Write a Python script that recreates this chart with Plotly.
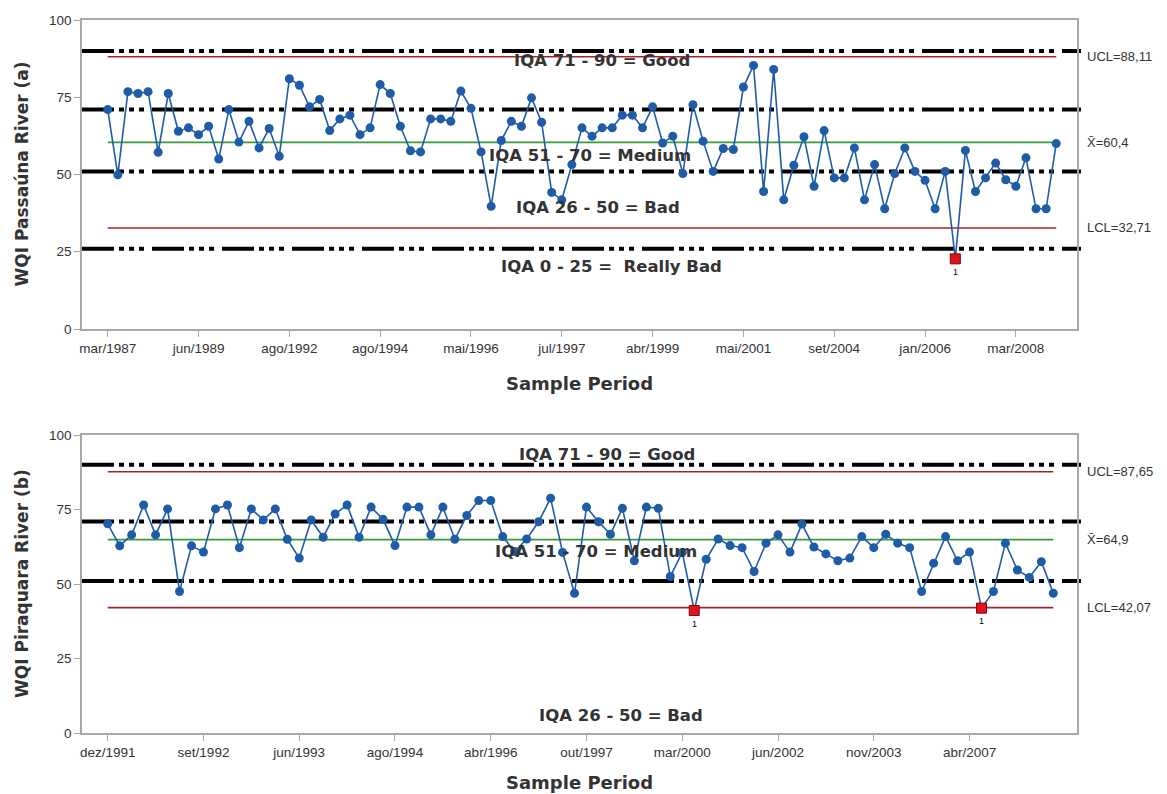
import plotly.graph_objects as go

W, H = 1167, 794

# ---------------- data ----------------
passauna_wqi = [71.0, 49.9, 76.8, 76.2, 76.8, 57.2, 76.2, 64.0, 65.1, 62.9, 65.6, 55.0, 71.0, 60.5, 67.2, 58.6,
                64.9, 55.9, 81.0, 78.9, 71.9, 74.3, 64.2, 68.0, 69.2, 62.9, 65.1, 79.1, 76.2, 65.6, 57.7, 57.3,
                68.0, 68.0, 67.2, 77.0, 71.4, 57.3, 39.7, 61.0, 67.2, 65.6, 74.8, 66.9, 44.2, 41.8, 53.2, 65.1,
                62.4, 65.1, 65.1, 69.2, 69.2, 65.1, 71.9, 60.2, 62.4, 50.3, 72.6, 60.8, 51.0, 58.4, 58.1, 78.3,
                85.3, 44.5, 84.0, 41.8, 53.0, 62.2, 46.2, 64.2, 48.9, 48.9, 58.6, 41.8, 53.2, 38.9, 50.3, 58.6,
                51.0, 48.1, 38.9, 51.0, 22.7, 57.8, 44.5, 48.9, 53.7, 48.3, 46.2, 55.4, 38.9, 38.9, 60.0]
passauna_ticklabels = ["mar/1987", "jun/1989", "ago/1992", "ago/1994", "mai/1996", "jul/1997",
                       "abr/1999", "mai/2001", "set/2004", "jan/2006", "mar/2008"]
passauna_tick_step = 9
passauna_ucl, passauna_mean, passauna_lcl = 88.11, 60.4, 32.71
passauna_limit_labels = ["UCL=88,11", "X\u0304=60,4", "LCL=32,71"]
passauna_out = [84]
passauna_bounds = [90, 71, 51, 26]
passauna_classes = ["IQA 71 - 90 = Good", "IQA 51 - 70 = Medium", "IQA 26 - 50 = Bad", "IQA 0 - 25 =  Really Bad"]

piraquara_wqi = [70.2, 62.8, 66.5, 76.5, 66.5, 75.2, 47.5, 62.8, 60.7, 75.2, 76.5, 62.2, 75.2, 71.5, 75.2, 65.0,
                 58.7, 71.5, 65.7, 73.5, 76.5, 65.7, 75.8, 71.7, 62.9, 75.8, 75.8, 66.5, 75.8, 65.0, 73.0, 78.0,
                 78.0, 65.9, 60.9, 65.1, 70.9, 78.8, 60.6, 46.9, 75.8, 70.9, 66.7, 75.4, 57.8, 75.8, 75.4, 52.5,
                 60.6, 41.1, 58.3, 65.1, 62.9, 62.2, 54.2, 63.7, 66.5, 60.7, 70.1, 62.4, 60.1, 57.8, 58.7, 65.9,
                 62.2, 66.7, 63.7, 62.2, 47.5, 57.0, 65.9, 57.8, 60.7, 41.9, 47.5, 63.7, 54.7, 52.2, 57.5, 46.9]
piraquara_ticklabels = ["dez/1991", "set/1992", "jun/1993", "ago/1994", "abr/1996", "out/1997",
                        "mar/2000", "jun/2002", "nov/2003", "abr/2007"]
piraquara_tick_step = 8
piraquara_ucl, piraquara_mean, piraquara_lcl = 87.65, 64.9, 42.07
piraquara_limit_labels = ["UCL=87,65", "X\u0304=64,9", "LCL=42,07"]
piraquara_out = [49, 73]
piraquara_bounds = [90, 71, 51]
piraquara_classes = ["IQA 71 - 90 = Good", "IQA 51 - 70 = Medium", "IQA 26 - 50 = Bad"]

y_titles = ["WQI Passaúna River (a)", "WQI Piraquara River (b)"]
x_title = "Sample Period"

# ---------------- styling ----------------
BLUE = "#1f5ca8"
RED_LINE = "#a3242e"
GREEN = "#3a9a3a"
AXIS_GRAY = "#a8a8a8"
TXT = "#333333"
BOLD_FONT = "DejaVu Sans"
TICK_FONT = "Liberation Sans"
DASH = "32px,5px,5px,5px,5px,5px,5px,8px"


def px(x):
    return x / W


def py(y):
    return 1 - y / H


fig = go.Figure()

panels = [
    dict(vals=passauna_wqi, labels=passauna_ticklabels, step=passauna_tick_step,
         ucl=passauna_ucl, mean=passauna_mean, lcl=passauna_lcl, lim_labels=passauna_limit_labels,
         out=passauna_out, bounds=passauna_bounds, classes=passauna_classes,
         class_pos=[(602, 60), (590, 155), (598, 207), (611, 266)],
         top=20, bottom=329, xrange=[-2.55, 96.06], xt_y=383, xa="x", ya="y"),
    dict(vals=piraquara_wqi, labels=piraquara_ticklabels, step=piraquara_tick_step,
         ucl=piraquara_ucl, mean=piraquara_mean, lcl=piraquara_lcl, lim_labels=piraquara_limit_labels,
         out=piraquara_out, bounds=piraquara_bounds, classes=piraquara_classes,
         class_pos=[(607, 454), (596, 551), (621, 715)],
         top=435, bottom=733, xrange=[-2.15, 80.98], xt_y=782, xa="x2", ya="y2"),
]

LEFT, RIGHT = 82, 1077
annotations = []
shapes = []

for k, p in enumerate(panels):
    n = len(p["vals"])
    idx = list(range(n))
    xa, ya = p["xa"], p["ya"]
    # control limit lines
    for val, col in [(p["ucl"], RED_LINE), (p["lcl"], RED_LINE), (p["mean"], GREEN)]:
        fig.add_trace(go.Scatter(x=[0, n - 1], y=[val, val], mode="lines",
                                 line=dict(color=col, width=1.6), xaxis=xa, yaxis=ya,
                                 showlegend=False, hoverinfo="skip"))
    # class boundary lines
    xd = "x domain" if xa == "x" else "x2 domain"
    for b in p["bounds"]:
        shapes.append(dict(type="line", xref=xd, yref=ya, x0=0, x1=1.004, y0=b, y1=b,
                           line=dict(color="black", width=4, dash=DASH), layer="below"))
    # data line + markers
    fig.add_trace(go.Scatter(x=idx, y=p["vals"], mode="lines+markers",
                             line=dict(color=BLUE, width=1.6),
                             marker=dict(color=BLUE, size=9, symbol="circle"),
                             xaxis=xa, yaxis=ya, showlegend=False))
    # out-of-control points
    fig.add_trace(go.Scatter(x=p["out"], y=[p["vals"][i] for i in p["out"]], mode="markers",
                             marker=dict(color="#e0141e", size=10, symbol="square",
                                         line=dict(color="#8a0000", width=1)),
                             xaxis=xa, yaxis=ya, showlegend=False))
    for i in p["out"]:
        annotations.append(dict(x=i, y=p["vals"][i], xref=xa, yref=ya, text="1", showarrow=False,
                                yshift=-13, font=dict(size=9, color="black", family=TICK_FONT)))
    # limit labels on the right
    for val, lab in zip([p["ucl"], p["mean"], p["lcl"]], p["lim_labels"]):
        annotations.append(dict(x=px(1085), y=val, xref="paper", yref=ya, text=lab, showarrow=False,
                                xanchor="left", yanchor="middle",
                                font=dict(size=13, color=TXT, family=TICK_FONT)))
    # class labels
    for txt, (cx, cy) in zip(p["classes"], p["class_pos"]):
        annotations.append(dict(x=px(cx), y=py(cy), xref="paper", yref="paper", text="<b>" + txt + "</b>",
                                showarrow=False, xanchor="center", yanchor="middle",
                                font=dict(size=16.5, color=TXT, family=BOLD_FONT)))
    # axis titles
    annotations.append(dict(x=px((LEFT + RIGHT) / 2), y=py(p["xt_y"]), xref="paper", yref="paper",
                            text="<b>" + x_title + "</b>", showarrow=False, xanchor="center", yanchor="middle",
                            font=dict(size=18, color=TXT, family=BOLD_FONT)))
    annotations.append(dict(x=px(22), y=py((p["top"] + p["bottom"]) / 2), xref="paper", yref="paper",
                            text="<b>" + y_titles[k] + "</b>", showarrow=False, textangle=-90,
                            xanchor="center", yanchor="middle",
                            font=dict(size=17, color=TXT, family=BOLD_FONT)))

axis_common = dict(showgrid=False, zeroline=False, showline=True, linecolor=AXIS_GRAY, linewidth=1.5,
                   mirror=True, ticks="outside", tickcolor=AXIS_GRAY, ticklen=6, tickwidth=1,
                   automargin=False,
                   tickfont=dict(size=13.5, color=TXT, family=TICK_FONT))

layout = dict(width=W, height=H, margin=dict(l=0, r=0, t=0, b=0, autoexpand=False),
              paper_bgcolor="white", plot_bgcolor="white", showlegend=False,
              annotations=annotations, shapes=shapes)
for k, p in enumerate(panels):
    sfx = "" if k == 0 else "2"
    layout["xaxis" + sfx] = dict(axis_common, domain=[px(LEFT), px(RIGHT)], range=p["xrange"],
                                 tickmode="array",
                                 tickvals=[j * p["step"] for j in range(len(p["labels"]))],
                                 ticktext=p["labels"], anchor="y" + sfx)
    layout["yaxis" + sfx] = dict(axis_common, domain=[py(p["bottom"]), py(p["top"])], range=[0, 100],
                                 tickmode="array", tickvals=[0, 25, 50, 75, 100], anchor="x" + sfx)

fig.update_layout(**layout)
fig.write_html("out.html", config={"displayModeBar": False},
               post_script="document.body.style.margin='0';")
